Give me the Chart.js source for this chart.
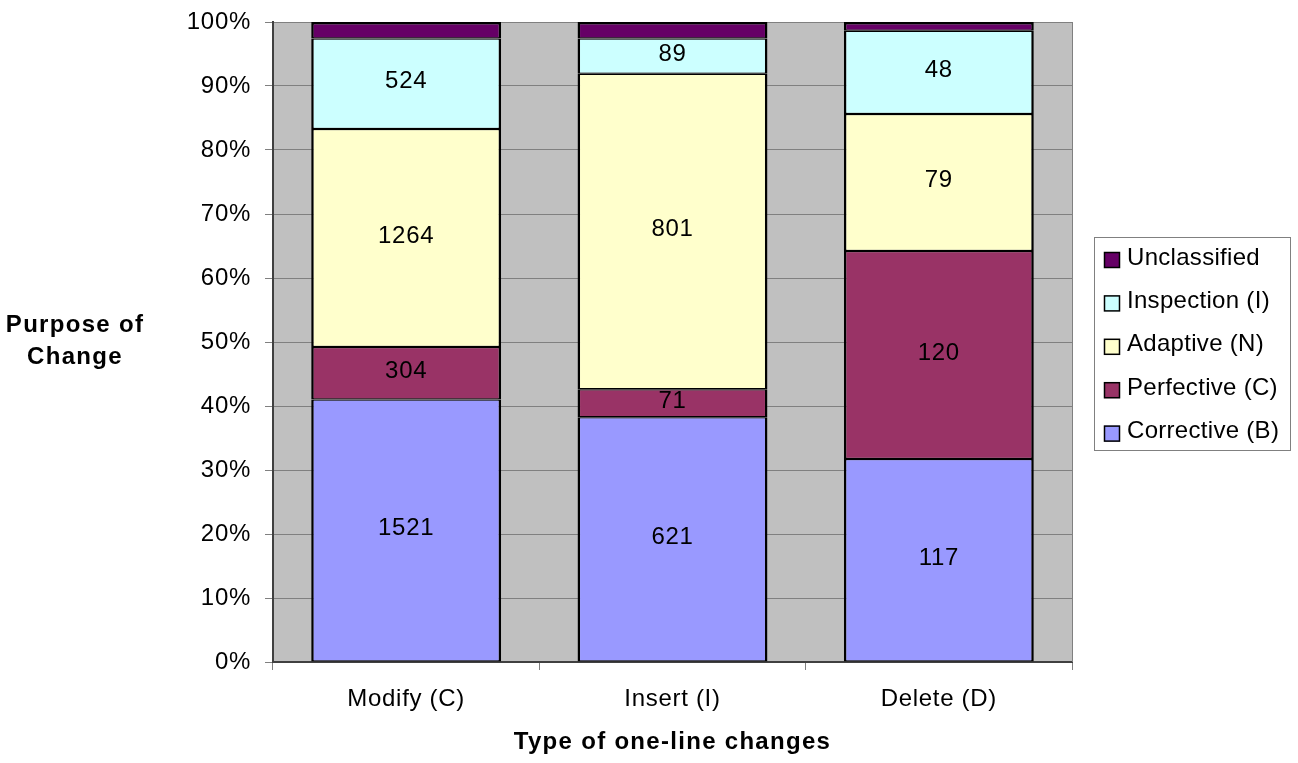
<!DOCTYPE html>
<html>
<head>
<meta charset="utf-8">
<script src="https://cdn.jsdelivr.net/npm/chart.js@4.4.1/dist/chart.umd.min.js"></script>
<style>
  html, body { margin: 0; padding: 0; background: #ffffff; }
  canvas { display: block; }
</style>
</head>
<body>
<canvas id="chart" width="1298" height="763"></canvas>
<script>
// Counts of one-line changes by change type and purpose
const categories = ['Modify (C)', 'Insert (I)', 'Delete (D)'];
const corrective   = [1521, 621, 117];
const perfective   = [304, 71, 120];
const adaptive     = [1264, 801, 79];
const inspection   = [524, 89, 48];
const unclassified = [96, 42, 5];
const yTickValues  = [0, 10, 20, 30, 40, 50, 60, 70, 80, 90, 100];

const FONT = '"Liberation Sans", Arial, Helvetica, sans-serif';

const series = [
  { label: 'Corrective (B)', counts: corrective,   color: '#9999FF', showValue: true },
  { label: 'Perfective (C)', counts: perfective,   color: '#993366', showValue: true },
  { label: 'Adaptive (N)',   counts: adaptive,     color: '#FFFFCC', showValue: true },
  { label: 'Inspection (I)', counts: inspection,   color: '#CCFFFF', showValue: true },
  { label: 'Unclassified',   counts: unclassified, color: '#660066', showValue: false }
];

// Column totals, used to turn counts into shares of 100%
const totals = categories.map((_, i) => series.reduce((s, d) => s + d.counts[i], 0));

const datasets = series.map((s, k) => ({
  label: s.label,
  data: s.counts.map((v, i) => v / totals[i] * 100),
  counts: s.counts,
  showValue: s.showValue,
  backgroundColor: s.color,
  borderColor: '#000000',
  borderWidth: { top: k === series.length - 1 ? 2.5 : 1.25, bottom: 1.25, left: 2.5, right: 2.5 },
  borderSkipped: false,
  barPercentage: 0.713,
  categoryPercentage: 1.0
}));

// Grey plot area, right frame line, value labels, axis titles and boxed legend
const decorations = {
  id: 'decorations',
  beforeDraw(chart) {
    const { ctx, chartArea: a } = chart;
    ctx.letterSpacing = '0.7px';
    ctx.save();
    ctx.fillStyle = '#C0C0C0';
    ctx.fillRect(a.left, a.top, a.right - a.left, a.bottom - a.top);
    ctx.restore();
  },
  afterDatasetsDraw(chart) {
    const { ctx, chartArea: a } = chart;
    ctx.save();
    ctx.strokeStyle = '#808080';
    ctx.lineWidth = 1;
    ctx.beginPath();
    ctx.moveTo(a.right + 0.5, a.top);
    ctx.lineTo(a.right + 0.5, a.bottom);
    ctx.stroke();

    ctx.font = '24px ' + FONT;
    ctx.fillStyle = '#000000';
    ctx.textAlign = 'center';
    ctx.textBaseline = 'middle';
    chart.data.datasets.forEach((ds, di) => {
      if (!ds.showValue) return;
      chart.getDatasetMeta(di).data.forEach((bar, i) => {
        ctx.fillText(String(ds.counts[i]), bar.x, (bar.y + bar.base) / 2 - 2);
      });
    });
    ctx.restore();
  },
  afterDraw(chart) {
    const { ctx, chartArea: a } = chart;
    ctx.save();
    ctx.fillStyle = '#000000';
    ctx.textAlign = 'center';
    ctx.textBaseline = 'middle';
    ctx.letterSpacing = '1.3px';
    ctx.font = 'bold 24px ' + FONT;
    ctx.fillText('Purpose of', 75, 325);
    ctx.fillText('Change', 75, 357);
    ctx.fillText('Type of one-line changes', (a.left + a.right) / 2, 742);

    // Legend, listed top-down from the last series
    const box = { x: 1094.5, y: 237.5, w: 196, h: 213 };
    ctx.strokeStyle = '#808080';
    ctx.lineWidth = 1;
    ctx.strokeRect(box.x, box.y, box.w, box.h);
    ctx.textAlign = 'left';
    ctx.letterSpacing = '0.3px';
    ctx.font = '24px ' + FONT;
    const order = chart.data.datasets.slice().reverse();
    order.forEach((ds, r) => {
      const cy = 260 + r * 43.4;
      ctx.fillStyle = ds.backgroundColor;
      ctx.fillRect(1104, cy - 8, 16, 16);
      ctx.strokeStyle = '#000000';
      ctx.lineWidth = 1.5;
      ctx.strokeRect(1104.5, cy - 7.5, 15, 15);
      ctx.fillStyle = '#000000';
      ctx.fillText(ds.label, 1127, cy - 2);
    });
    ctx.restore();
  }
};

new Chart(document.getElementById('chart'), {
  type: 'bar',
  data: { labels: categories, datasets },
  options: {
    responsive: false,
    devicePixelRatio: 1,
    animation: false,
    layout: { padding: { top: 22, right: 226, left: 0, bottom: 0 } },
    plugins: {
      legend: { display: false },
      tooltip: { enabled: false }
    },
    scales: {
      x: {
        stacked: true,
        offset: true,
        grid: {
          display: true,
          drawOnChartArea: false,
          drawTicks: true,
          tickLength: 8,
          tickColor: '#808080',
          offset: true
        },
        border: { display: true, color: '#404040', width: 2 },
        ticks: {
          color: '#000000',
          font: { family: FONT, size: 24 },
          padding: 15,
          maxRotation: 0
        },
        afterFit(scale) {
          scale.height = 101;
          scale.paddingLeft = 0;
          scale.paddingRight = 0;
        }
      },
      y: {
        stacked: true,
        min: 0,
        max: 100,
        afterBuildTicks(scale) { scale.ticks = yTickValues.map(v => ({ value: v })); },
        grid: {
          color: '#808080',
          lineWidth: 1,
          tickLength: 8,
          tickColor: '#808080'
        },
        border: { display: true, color: '#404040', width: 2 },
        ticks: {
          color: '#000000',
          font: { family: FONT, size: 24 },
          padding: 14,
          callback: v => v + '%'
        },
        afterFit(scale) {
          scale.width = 273;
          scale.paddingTop = 0;
          scale.paddingBottom = 0;
        }
      }
    }
  },
  plugins: [decorations]
});
</script>
</body>
</html>
